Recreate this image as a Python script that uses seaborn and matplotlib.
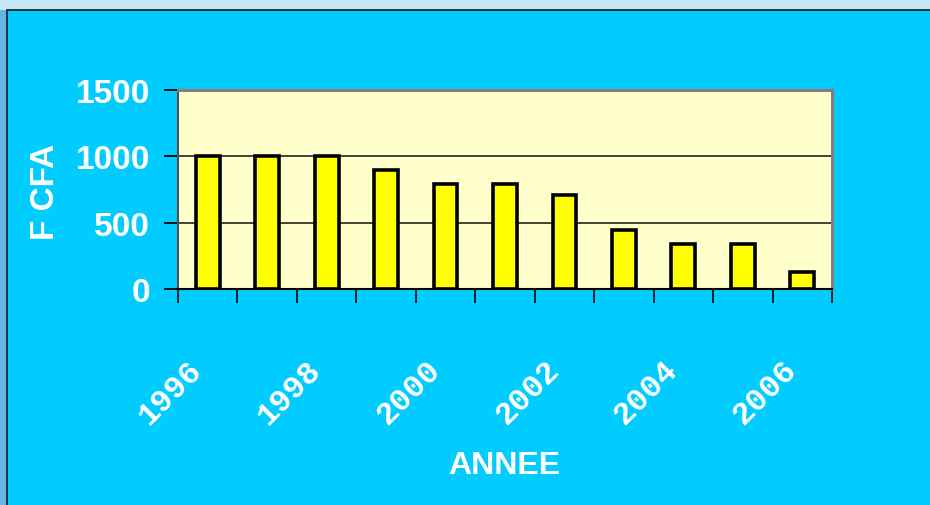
import matplotlib
matplotlib.use("Agg")
import matplotlib.pyplot as plt
import matplotlib.transforms as mtransforms
from matplotlib.patches import Rectangle
import seaborn as sns
import pandas as pd
import numpy as np

# ---- data ----
years = ["1996", "1997", "1998", "1999", "2000", "2001", "2002", "2003", "2004", "2005", "2006"]
values = [1000, 1000, 1000, 895, 790, 790, 710, 445, 340, 340, 130]
label_years = ["1996", "1998", "2000", "2002", "2004", "2006"]
y_ticks = [0, 500, 1000, 1500]

df = pd.DataFrame({"ANNEE": years, "FCFA": values})

sns.set_theme(style="white")
plt.rcParams["font.family"] = ["DejaVu Sans"]

W, H = 930, 506
fig = plt.figure(figsize=(W / 100, H / 100), dpi=100)
fig.patch.set_facecolor("#C6E8F6")

# left gradient-ish strip and cyan panel
fig.patches.append(Rectangle((0, 0), 7 / W, 1 - 11 / H, transform=fig.transFigure,
                             facecolor="#62B8E0", edgecolor="none", zorder=-3))
fig.patches.append(Rectangle((7 / W, -0.01), 1, 1.01 - 11 / H, transform=fig.transFigure,
                             facecolor="#00CCFF", edgecolor="#1a2a33", linewidth=1.3, zorder=-2))

L, R, T, B = 178, 832, 91, 290
ax = fig.add_axes([L / W, 1 - B / H, (R - L) / W, (B - T) / H])
ax.set_zorder(1)
ax.set_facecolor("#FFFFCC")

sns.barplot(data=df, x="ANNEE", y="FCFA", ax=ax, color="#FFFF00", saturation=1,
            edgecolor="black", linewidth=2.6, width=0.4, zorder=3)

ax.set_ylim(0, 1500)
ax.set_xlim(-0.5, len(years) - 0.5)

# grid
for yv in y_ticks[1:-1]:
    ax.axhline(yv, color="#222222", linewidth=1.2, zorder=1)

# spines
for s in ["top", "right"]:
    ax.spines[s].set_color("#808080")
    ax.spines[s].set_linewidth(2.2)
ax.spines["left"].set_color("#505050")
ax.spines["left"].set_linewidth(1.5)
ax.spines["bottom"].set_color("black")
ax.spines["bottom"].set_linewidth(1.5)

# y ticks
ax.set_yticks(y_ticks)
ax.set_yticklabels([str(v) for v in y_ticks])
ax.tick_params(axis="y", which="major", length=10, width=1.3, color="black",
               direction="out", pad=10, left=True)
for lab in ax.get_yticklabels():
    lab.set_family(["Liberation Sans Narrow", "Liberation Sans"])
    lab.set_fontweight("bold")
    lab.set_fontsize(24)
    lab.set_color("white")

# x ticks: boundaries as minor ticks, labels at every other category
idx = [years.index(y) for y in label_years]
ax.set_xticks(idx)
ax.set_xticklabels(label_years)
ax.set_xticks(np.arange(-0.5, len(years), 1.0), minor=True)
ax.tick_params(axis="x", which="minor", length=10, width=1.2, color="black",
               direction="out", bottom=True)
ax.tick_params(axis="x", which="major", length=0, pad=0, bottom=True)
offset = mtransforms.ScaledTranslation(-10 / 100, -76 / 100, fig.dpi_scale_trans)
for lab in ax.get_xticklabels():
    lab.set_family(["Liberation Mono", "DejaVu Sans Mono"])
    lab.set_fontweight("bold")
    lab.set_fontsize(23)
    lab.set_color("white")
    lab.set_rotation(45)
    lab.set_rotation_mode("anchor")
    lab.set_ha("right")
    lab.set_va("center")
    lab.set_transform(lab.get_transform() + offset)

# axis labels
ax.set_xlabel("ANNEE", color="white", fontsize=23, fontweight="bold",
              family=["Liberation Sans Narrow", "Liberation Sans"])
ax.xaxis.set_label_coords((504 - L) / (R - L), (B - 466) / (B - T))
ax.xaxis.label.set_va("center")
ax.set_ylabel("F CFA", color="white", fontsize=24, fontweight="bold",
              family=["Liberation Sans Narrow", "Liberation Sans"])
ax.yaxis.set_label_coords((46 - L) / (R - L), (B - 192) / (B - T))
ax.yaxis.label.set_va("center")

fig.savefig("out.png", dpi=100, facecolor=fig.get_facecolor())
